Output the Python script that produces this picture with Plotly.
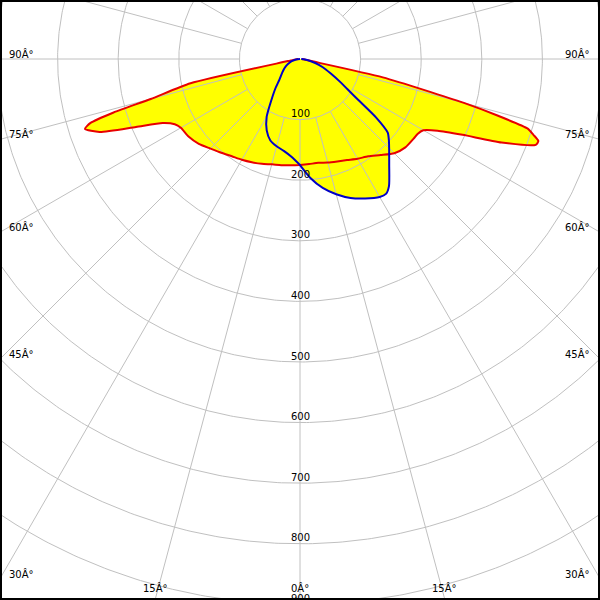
import numpy as np
import plotly.graph_objects as go

# ---- data (gamma angle from nadir in degrees, luminous intensity in cd) ----
# C0 / C180 plane (red, filled yellow)
gamma_c0 = [0, 5, 10, 15, 20, 25, 30, 35, 40, 45, 50, 55, 57.5, 60, 62.5, 65, 67.5, 70, 71, 72, 73, 74, 75, 77.5, 80, 85, 90]
cd_c0 = [175, 174, 174, 177, 180, 184, 190, 196, 207, 220, 227, 229, 230, 235, 256, 296, 360, 414, 416, 405, 393, 340, 280, 140, 15, 6, 3]
gamma_c180 = [0, 5, 10, 15, 20, 25, 30, 35, 40, 45, 50, 55, 60, 62.5, 65, 67.5, 70, 72, 73, 74, 75, 77.5, 80, 85, 90]
cd_c180 = [175, 176, 178, 180, 184, 188, 192, 196, 202, 209, 218, 224, 227, 233, 250, 293, 352, 373, 362, 320, 255, 185, 20, 7, 3]

# C90 / C270 plane (blue)
gamma_c90 = [0, 5, 10, 15, 20, 25, 30, 32.5, 35, 40, 45, 47.5, 50, 52.5, 55, 57.5, 60, 65, 70, 75, 80, 85, 90]
cd_c90 = [175, 197, 216, 231, 244, 254, 263, 264, 256, 229, 208, 199, 189, 158, 117, 93, 78, 55, 40, 27, 16, 8, 2]
gamma_c270 = [0, 5, 10, 15, 20, 25, 30, 35, 40, 45, 50, 55, 60, 65, 70, 75, 80, 85, 90]
cd_c270 = [175, 162, 154, 149, 143, 130, 110, 82, 63, 48, 40, 34, 29, 24, 19, 14, 9, 4, 0]

ring_values = [100, 200, 300, 400, 500, 600, 700, 800, 900]
ring_labels = ["100", "200", "300", "400", "500", "600", "700", "800", "900"]
spoke_step = 15
side_angles = [30, 45, 60, 75, 90]
side_labels = ["30Â°", "45Â°", "60Â°", "75Â°", "90Â°"]
bottom_angles = [0, 15]
bottom_labels = ["0Â°", "15Â°"]

# ---- geometry helpers ----
SCALE = 0.606          # px per cd
CX, CY = 300, 59       # pixel position of the centre
W = H = 600
X_HALF = (W / 2) / SCALE
Y_TOP = CY / SCALE
Y_BOT = (H - CY) / SCALE


def side_xy(gam, cd, sign):
    g = np.radians(np.asarray(gam, dtype=float))
    r = np.asarray(cd, dtype=float)
    return sign * r * np.sin(g), -r * np.cos(g)


def closed_curve(g_right, c_right, g_left, c_left):
    xr, yr = side_xy(g_right, c_right, 1)
    xl, yl = side_xy(g_left, c_left, -1)
    x = np.concatenate([xr[::-1], xl])
    y = np.concatenate([yr[::-1], yl])
    return x, y


red_x, red_y = closed_curve(gamma_c0, cd_c0, gamma_c180, cd_c180)
blue_x, blue_y = closed_curve(gamma_c90, cd_c90, gamma_c270, cd_c270)

fig = go.Figure()

FILL = "#FFFF00"
SMOOTH = 0.6
fig.add_trace(go.Scatter(x=red_x, y=red_y, mode="lines", fill="toself", fillcolor=FILL,
                         line=dict(width=0, color=FILL, shape="spline", smoothing=SMOOTH),
                         hoverinfo="skip", showlegend=False))
fig.add_trace(go.Scatter(x=blue_x, y=blue_y, mode="lines", fill="toself", fillcolor=FILL,
                         line=dict(width=0, color=FILL, shape="spline", smoothing=SMOOTH),
                         hoverinfo="skip", showlegend=False))

# grid: rings
t = np.linspace(0, 2 * np.pi, 721)
gx, gy = [], []
for rv in ring_values:
    gx += list(rv * np.cos(t)) + [None]
    gy += list(rv * np.sin(t)) + [None]
# grid: spokes from the first ring outwards
r_in, r_out = ring_values[0], 2000
for a in range(0, 360, spoke_step):
    ar = np.radians(a)
    gx += [r_in * np.sin(ar), r_out * np.sin(ar), None]
    gy += [-r_in * np.cos(ar), -r_out * np.cos(ar), None]
fig.add_trace(go.Scatter(x=gx, y=gy, mode="lines", line=dict(color="#C0C0C0", width=1),
                         hoverinfo="skip", showlegend=False))

fig.add_trace(go.Scatter(x=red_x, y=red_y, mode="lines",
                         line=dict(color="#E80000", width=2, shape="spline", smoothing=SMOOTH),
                         hoverinfo="skip", showlegend=False))
fig.add_trace(go.Scatter(x=blue_x, y=blue_y, mode="lines",
                         line=dict(color="#0000C8", width=2, shape="spline", smoothing=SMOOTH),
                         hoverinfo="skip", showlegend=False))

FONT = dict(family="DejaVu Sans, Verdana, sans-serif", size=10, color="#000000")
ann = []
for rv, lab in zip(ring_values, ring_labels):
    # keep the anchor inside the visible range so Plotly draws the label
    y_anchor = max(-rv, -Y_BOT)
    shift = 6 - (rv - (-y_anchor)) * SCALE
    ann.append(dict(x=0, y=y_anchor, text=lab, showarrow=False, xanchor="center", yanchor="middle",
                    yshift=shift, font=FONT))
for a, lab in zip(side_angles, side_labels):
    yy = -X_HALF / np.tan(np.radians(a)) if a < 90 else 0.0
    ann.append(dict(x=-X_HALF, y=yy, text=lab, showarrow=False, xanchor="left", yanchor="bottom",
                    xshift=7, yshift=-3, font=FONT))
    ann.append(dict(x=X_HALF, y=yy, text=lab, showarrow=False, xanchor="right", yanchor="bottom",
                    xshift=-8, yshift=-3, font=FONT))
for a, lab in zip(bottom_angles, bottom_labels):
    xx = Y_BOT * np.tan(np.radians(a))
    for s in ([1] if a == 0 else [-1, 1]):
        ann.append(dict(x=s * xx, y=-Y_BOT, text=lab, showarrow=False, xanchor="center",
                        yanchor="bottom", yshift=4, font=FONT))

fig.update_layout(
    width=W, height=H,
    margin=dict(l=0, r=0, t=0, b=0),
    paper_bgcolor="white", plot_bgcolor="white",
    xaxis=dict(range=[-X_HALF, X_HALF], visible=False, fixedrange=True),
    yaxis=dict(range=[-Y_BOT, Y_TOP], visible=False, fixedrange=True),
    annotations=ann,
    shapes=[dict(type="rect", xref="paper", yref="paper", x0=0, y0=0, x1=1, y1=1,
                 line=dict(color="black", width=4), layer="above")],
    showlegend=False,
)

fig.write_html("out.html", config={"displayModeBar": False, "staticPlot": True},
               post_script="document.body.style.margin='0px';document.body.style.overflow='hidden';")
